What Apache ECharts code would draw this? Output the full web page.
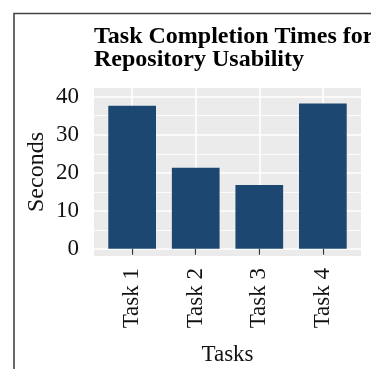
<!DOCTYPE html>
<html>
<head>
<meta charset="utf-8">
<script src="https://cdn.jsdelivr.net/npm/echarts@6/dist/echarts.min.js"></script>
<style>
  html, body { margin: 0; padding: 0; background: #fff; }
  #chart { width: 371px; height: 369px; }
</style>
</head>
<body>
<div id="chart"></div>
<script>
// data
const tasks = ["Task 1", "Task 2", "Task 3", "Task 4"];
const seconds = [37.6, 21.3, 16.8, 38.2];
const yMajor = [0, 10, 20, 30, 40];
const yMinor = [5, 15, 25, 35];
const xPos = [1, 2, 3, 4];

const font = "Liberation Serif";
const chart = echarts.init(document.getElementById("chart"));

chart.setOption({
  animation: false,
  backgroundColor: "#fff",
  title: {
    text: "Task Completion Times for\nRepository Usability",
    left: 94,
    top: 25,
    padding: 0,
    textStyle: {
      fontFamily: font,
      fontWeight: "bold",
      fontSize: 24,
      lineHeight: 23,
      color: "#000",
    },
  },
  graphic: [
    {
      type: "rect",
      shape: { x: 14, y: 13.5, width: 500, height: 500 },
      style: { fill: "none", stroke: "#444", lineWidth: 1.6 },
      silent: true,
    },
  ],
  grid: {
    left: 94,
    right: 10,
    top: 88,
    bottom: 113,
    show: true,
    backgroundColor: "#ebebeb",
    borderWidth: 0,
  },
  xAxis: {
    type: "value",
    min: 0.4,
    max: 4.6,
    name: "Tasks",
    nameLocation: "middle",
    nameGap: 87,
    nameMoveOverlap: false,
    nameTextStyle: { fontFamily: font, fontSize: 23, color: "#111" },
    axisLine: { show: false },
    axisTick: {
      show: true,
      length: 6,
      customValues: xPos,
      lineStyle: { color: "#333", width: 1.2 },
    },
    axisLabel: {
      customValues: xPos,
      rotate: 90,
      margin: 12,
      fontFamily: font,
      fontSize: 23,
      color: "#111",
      formatter: (v) => tasks[v - 1],
    },
    splitLine: { show: true, lineStyle: { color: "#fff", width: 1.6 } },
  },
  yAxis: [
    {
      type: "value",
      min: -1.9,
      max: 42.3,
      name: "Seconds",
      nameLocation: "middle",
      nameGap: 45,
      nameMoveOverlap: false,
      nameTextStyle: { fontFamily: font, fontSize: 24, color: "#111" },
      axisLine: { show: false },
      axisTick: { show: false, customValues: yMajor },
      axisLabel: {
        customValues: yMajor,
        margin: 15,
        fontFamily: font,
        fontSize: 23,
        color: "#111",
      },
      splitLine: { show: true, lineStyle: { color: "#fff", width: 1.6 } },
    },
    {
      type: "value",
      min: -1.9,
      max: 42.3,
      position: "left",
      axisLine: { show: false },
      axisTick: { show: false, customValues: yMinor },
      axisLabel: { show: false },
      splitLine: { show: true, lineStyle: { color: "#fff", width: 0.8 } },
    },
  ],
  series: [
    {
      type: "bar",
      yAxisIndex: 0,
      barWidth: 47.7,
      itemStyle: { color: "#1b4770" },
      data: tasks.map((t, i) => [xPos[i], seconds[i]]),
    },
  ],
});
</script>
</body>
</html>
